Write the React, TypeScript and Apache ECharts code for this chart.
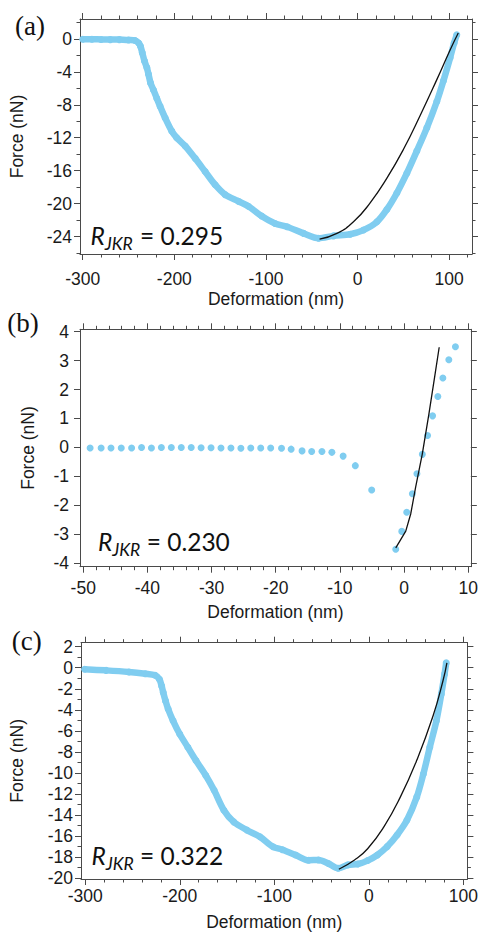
import React, { useEffect, useRef } from 'react';
import * as echarts from 'echarts';

// ---------- Panel (a) ----------
const aDefl = [-300, -290, -280, -270, -260, -250, -243, -239, -237, -235, -232.6, -230, -228.2, -226, -222.8, -219.2, -215.5, -210, -202.8, -197.4, -188.2, -177.3, -166.4, -155.5, -144.6, -130.1, -119.2, -104.7, -90.1, -77, -58.9, -42.5, -26.2, -8, 6.5, 21.2, 32.1, 43, 53.9, 64.8, 75.7, 86.6, 93.8, 101.1, 105.5, 108.4];
const aForce = [-0.05, -0.05, -0.08, -0.1, -0.1, -0.15, -0.2, -0.5, -0.9, -1.7, -2.7, -3.5, -4.3, -5.35, -6.2, -7.2, -8.2, -9.6, -11.2, -12.0, -13.0, -14.5, -16.1, -17.7, -18.9, -19.7, -20.3, -21.5, -22.4, -22.8, -23.6, -24.2, -23.9, -23.7, -23.2, -22.2, -20.7, -18.7, -16.3, -13.6, -10.8, -7.6, -5.1, -2.3, -0.5, 0.5];
const aFitDefl = [-41.4, -22.5, -4.4, 13.8, 32.1, 50.2, 68.4, 86.6, 101.1, 110];
const aFitForce = [-24.3, -23.6, -22.2, -19.9, -16.9, -13.4, -9.3, -4.95, -1.35, 0.7];
const aXTicks = [-300, -200, -100, 0, 100];
const aYTicks = [0, -4, -8, -12, -16, -20, -24];
const aLabel = '0.295';

// ---------- Panel (b) ----------
const bDefl = [-48.92, -47.21, -45.67, -44.07, -42.46, -40.91, -39.37, -37.82, -36.27, -34.72, -33.17, -31.63, -30.08, -28.53, -26.98, -25.43, -23.89, -22.34, -20.79, -19.1, -17.6, -15.9, -14.4, -12.8, -11.25, -9.5, -7.6, -5.05, -1.3, -0.36, 0.41, 1.29, 2.0, 2.84, 3.66, 4.44, 5.26, 6.04, 6.97, 8.0];
const bForce = [-0.02, -0.02, -0.02, -0.02, -0.02, 0, -0.02, 0, 0, 0, 0, -0.01, -0.01, -0.02, -0.02, -0.03, -0.02, -0.02, -0.02, -0.03, -0.06, -0.12, -0.14, -0.14, -0.17, -0.3, -0.63, -1.47, -3.52, -2.9, -2.24, -1.6, -0.91, -0.24, 0.41, 1.09, 1.76, 2.4, 3.03, 3.48];
const bFitDefl = [-1.3, 0.26, 1.04, 1.8, 2.84, 3.87, 4.75, 5.47];
const bFitForce = [-3.47, -2.89, -2.29, -1.37, -0.22, 1.16, 2.42, 3.46];
const bXTicks = [-50, -40, -30, -20, -10, 0, 10];
const bYTicks = [4, 3, 2, 1, 0, -1, -2, -3, -4];
const bLabel = '0.230';

// ---------- Panel (c) ----------
const cDefl = [-300.6, -278, -253.8, -236.5, -226.1, -221.6, -219.2, -217.5, -215.1, -212.3, -207.1, -200.1, -191.5, -182.9, -172.5, -163.7, -153.4, -143, -129.1, -115.3, -101.4, -91.4, -77.5, -63.7, -53.3, -42.9, -32.5, -22.1, -11.7, -1.35, 9.0, 19.4, 29.8, 40.2, 50.6, 57.6, 64.4, 71.4, 76.6, 80, 81.8];
const cForce = [-0.15, -0.25, -0.4, -0.57, -0.72, -1.1, -1.73, -2.36, -3.15, -3.93, -5.04, -6.3, -7.56, -8.82, -10.24, -11.65, -13.54, -14.65, -15.43, -16.07, -17.01, -17.3, -17.8, -18.3, -18.27, -18.6, -19.06, -18.74, -18.65, -18.33, -17.8, -17.0, -15.9, -14.5, -12.3, -10.1, -7.56, -5.04, -2.5, -0.62, 0.47];
const cFitDefl = [-31.8, -15.2, -1.35, 16, 33.2, 50.6, 67.9, 78.3, 82.5];
const cFitForce = [-19.15, -18.27, -17.2, -15.1, -12.3, -8.8, -4.57, -1.26, 0.47];
const cXTicks = [-300, -200, -100, 0, 100];
const cYTicks = [2, 0, -2, -4, -6, -8, -10, -12, -14, -16, -18, -20];
const cLabel = '0.322';

const BLUE = '#80cdf0';
const AXIS = '#4a4a4a';
const TEXT = '#1a1a1a';
const SANS = '"Liberation Sans", Arial, sans-serif';
const CALI = 'Lato, "Open Sans", sans-serif';
const SERIF = '"Liberation Serif", "Times New Roman", serif';
const TICK_FONT = 17.5;
const NAME_FONT = 17.5;

function steps(from: number, to: number, step: number) {
  const out: number[] = [];
  for (let v = from; v <= to + 1e-9; v += step) out.push(Math.round(v * 1000) / 1000);
  return out;
}

function zip(xs: number[], ys: number[]) {
  return xs.map((x, i) => [x, ys[i]]);
}

function makeAxes(
  kind: 'x' | 'y',
  gridIndex: number,
  min: number,
  max: number,
  majors: number[],
  minors: number[],
  labelMargin: number,
  name: string,
  nameGap: number
) {
  const main = kind === 'x' ? 'bottom' : 'left';
  const opp = kind === 'x' ? 'top' : 'right';
  const base: any = { type: 'value', gridIndex, min, max, splitLine: { show: false } };
  const line = { show: true, onZero: false, lineStyle: { color: AXIS, width: 1 } };
  const noLine = { show: false, onZero: false };
  const majorTick = { show: true, length: 6, customValues: majors, lineStyle: { color: AXIS, width: 1 } };
  const minorTick = { show: true, length: 3.5, customValues: minors, lineStyle: { color: AXIS, width: 1 } };
  const axes: any[] = [
    {
      ...base,
      position: main,
      axisLine: line,
      axisTick: majorTick,
      axisLabel: { show: true, customValues: majors, margin: labelMargin, fontSize: TICK_FONT, color: TEXT, fontFamily: SANS },
      name,
      nameLocation: 'middle',
      nameGap,
      nameTextStyle: { fontSize: NAME_FONT, color: TEXT, fontFamily: SANS },
    },
    { ...base, position: main, axisLine: noLine, axisTick: minorTick, axisLabel: { show: false } },
    { ...base, position: opp, axisLine: line, axisTick: majorTick, axisLabel: { show: false } },
    { ...base, position: opp, axisLine: noLine, axisTick: minorTick, axisLabel: { show: false } },
  ];
  if (minors.length === 0) {
    axes[1].axisTick = { show: false };
    axes[3].axisTick = { show: false };
  }
  return axes;
}

function rjkr(xR: number, xEq: number, yMain: number, value: string) {
  return [
    {
      type: 'text',
      x: xR,
      y: yMain,
      style: {
        text: '{r|R}{s|JKR}',
        verticalAlign: 'middle',
        align: 'left',
        rich: {
          r: { fontStyle: 'italic', fontSize: 24.5, fontFamily: CALI, fill: '#111', lineHeight: 34, verticalAlign: 'middle' },
          s: { fontStyle: 'italic', fontSize: 17.5, fontFamily: CALI, fill: '#111', verticalAlign: 'bottom' },
        },
      },
    },
    {
      type: 'text',
      x: xEq,
      y: yMain,
      style: { text: '= ' + value, font: `24.5px ${CALI}`, fill: '#111', verticalAlign: 'middle', align: 'left' },
    },
  ];
}

export default function App() {
  const ref = useRef<HTMLDivElement>(null);
  useEffect(() => {
    if (!ref.current) return;
    const chart = echarts.init(ref.current, undefined, { renderer: 'svg' });
    const xAxes = [
      ...makeAxes('x', 0, -303, 125, aXTicks, steps(-300, 120, 20), 16, 'Deformation (nm)', 36),
      ...makeAxes('x', 1, -50.5, 10.4, bXTicks, steps(-50, 10, 2), 12, 'Deformation (nm)', 36),
      ...makeAxes('x', 2, -304.5, 104.2, cXTicks, steps(-300, 100, 20), 8, 'Deformation (nm)', 34),
    ];
    const yAxes = [
      ...makeAxes('y', 0, -26.1, 2.4, aYTicks, steps(-26, 2, 2), 8, 'Force (nN)', 54),
      ...makeAxes('y', 1, -4.12, 4.08, bYTicks, [], 11, 'Force (nN)', 43),
      ...makeAxes('y', 2, -20.08, 2.38, cYTicks, steps(-20, 2, 1), 8, 'Force (nN)', 55),
    ];
    const option: any = {
      animation: false,
      backgroundColor: '#ffffff',
      grid: [
        { left: 80, top: 19, width: 392, height: 235 },
        { left: 80, top: 329.3, width: 392.7, height: 237.4 },
        { left: 76.7, top: 642.7, width: 393.3, height: 236.3 },
      ],
      xAxis: xAxes,
      yAxis: yAxes,
      series: [
        {
          type: 'line', xAxisIndex: 0, yAxisIndex: 0, data: zip(aDefl, aForce), smooth: 0.3,
          symbol: 'circle', symbolSize: 7, showSymbol: true, lineStyle: { width: 6.5, color: BLUE }, itemStyle: { color: BLUE }, z: 2,
        },
        {
          type: 'line', xAxisIndex: 0, yAxisIndex: 0, data: zip(aFitDefl, aFitForce), smooth: true,
          symbol: 'none', lineStyle: { width: 1.3, color: '#111' }, z: 3,
        },
        {
          type: 'scatter', xAxisIndex: 4, yAxisIndex: 4, data: zip(bDefl, bForce),
          symbol: 'circle', symbolSize: 7, itemStyle: { color: BLUE, opacity: 1 }, z: 2,
        },
        {
          type: 'line', xAxisIndex: 4, yAxisIndex: 4, data: zip(bFitDefl, bFitForce), smooth: false,
          symbol: 'none', lineStyle: { width: 1.3, color: '#111' }, z: 3,
        },
        {
          type: 'line', xAxisIndex: 8, yAxisIndex: 8, data: zip(cDefl, cForce), smooth: 0.3,
          symbol: 'circle', symbolSize: 7, showSymbol: true, lineStyle: { width: 6.5, color: BLUE }, itemStyle: { color: BLUE }, z: 2,
        },
        {
          type: 'line', xAxisIndex: 8, yAxisIndex: 8, data: zip(cFitDefl, cFitForce), smooth: true,
          symbol: 'none', lineStyle: { width: 1.3, color: '#111' }, z: 3,
        },
      ],
      graphic: [
        { type: 'text', x: 15, y: 26, style: { text: '(a)', font: `27px ${SERIF}`, fill: '#111', verticalAlign: 'middle' } },
        { type: 'text', x: 7.3, y: 323, style: { text: '(b)', font: `27px ${SERIF}`, fill: '#111', verticalAlign: 'middle' } },
        { type: 'text', x: 11.7, y: 641, style: { text: '(c)', font: `27px ${SERIF}`, fill: '#111', verticalAlign: 'middle' } },
        ...rjkr(90.5, 140, 235, aLabel),
        ...rjkr(98, 146.7, 541.5, bLabel),
        ...rjkr(91.5, 140, 855, cLabel),
      ],
    };
    chart.setOption(option);
    return () => chart.dispose();
  }, []);
  return (
    <div
      ref={ref}
      style={{ position: 'absolute', left: 0, top: 0, width: 481, height: 932, background: '#fff' }}
    />
  );
}
